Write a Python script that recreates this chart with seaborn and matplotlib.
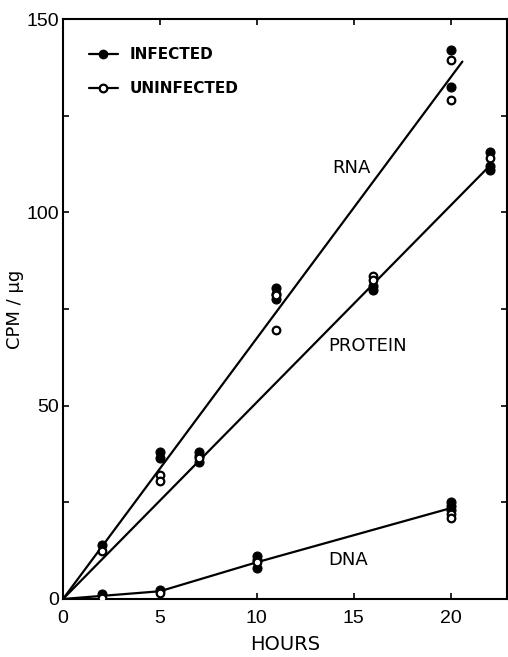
import numpy as np
import pandas as pd
import matplotlib
matplotlib.use("Agg")
import matplotlib.pyplot as plt
import seaborn as sns
from matplotlib.lines import Line2D
from matplotlib.legend_handler import HandlerLine2D

# ---- data ----
rna_inf_x = [2, 5, 5, 11, 11, 11, 20, 20]
rna_inf_y = [14, 38, 36.5, 80.5, 79, 77.5, 142, 132.5]
rna_uninf_x = [2, 5, 5, 11, 11, 20, 20]
rna_uninf_y = [12.5, 32, 30.5, 78.5, 69.5, 139.5, 129]

prot_inf_x = [7, 7, 7, 16, 16, 22, 22, 22]
prot_inf_y = [38, 37, 35.5, 81, 80, 115.5, 112, 111]
prot_uninf_x = [7, 16, 16, 22]
prot_uninf_y = [36.5, 83.5, 82.5, 114]

dna_inf_x = [2, 5, 10, 10, 10, 20, 20, 20]
dna_inf_y = [1.3, 2.2, 11, 10, 8, 25, 24, 23]
dna_uninf_x = [2, 5, 10, 20, 20]
dna_uninf_y = [0.3, 1.5, 9.5, 22, 21]

rna_line_x = [0, 20.6]
rna_line_y = [0, 139]
prot_line_x = [0, 22]
prot_line_y = [0, 112]
dna_line_x = [0, 2, 5, 10, 20]
dna_line_y = [0, 0.8, 2, 9.5, 23.5]

x_ticks = [0, 5, 10, 15, 20]
y_ticks = [0, 50, 100, 150]
y_minor = [0, 25, 50, 75, 100, 125, 150]
series_labels = ["RNA", "PROTEIN", "DNA"]
legend_labels = ["INFECTED", "UNINFECTED"]

# ---- tables ----
pts = pd.concat([
    pd.DataFrame({"x": rna_inf_x, "y": rna_inf_y, "state": "INFECTED"}),
    pd.DataFrame({"x": rna_uninf_x, "y": rna_uninf_y, "state": "UNINFECTED"}),
    pd.DataFrame({"x": prot_inf_x, "y": prot_inf_y, "state": "INFECTED"}),
    pd.DataFrame({"x": prot_uninf_x, "y": prot_uninf_y, "state": "UNINFECTED"}),
    pd.DataFrame({"x": dna_inf_x, "y": dna_inf_y, "state": "INFECTED"}),
    pd.DataFrame({"x": dna_uninf_x, "y": dna_uninf_y, "state": "UNINFECTED"}),
], ignore_index=True)

lines = pd.concat([
    pd.DataFrame({"x": rna_line_x, "y": rna_line_y, "s": "RNA"}),
    pd.DataFrame({"x": prot_line_x, "y": prot_line_y, "s": "PROTEIN"}),
    pd.DataFrame({"x": dna_line_x, "y": dna_line_y, "s": "DNA"}),
], ignore_index=True)

sns.set_style("ticks")
plt.rcParams["font.family"] = ["DejaVu Sans"]
plt.rcParams["text.color"] = "black"
plt.rcParams["axes.labelcolor"] = "black"

fig = plt.figure(figsize=(5.08, 6.57), dpi=100)
ax = fig.add_axes([0.124, 0.0883, 0.874, 0.8827])

sns.lineplot(data=lines, x="x", y="y", units="s", estimator=None, sort=False,
             color="black", lw=1.6, ax=ax, legend=False)

inf = pts[pts.state == "INFECTED"]
uninf = pts[pts.state == "UNINFECTED"]
sns.scatterplot(data=inf, x="x", y="y", marker="o", s=42, color="black",
                edgecolor="black", linewidth=0.8, ax=ax, legend=False, zorder=4)
sns.scatterplot(data=uninf, x="x", y="y", marker="o", s=30, facecolor="white",
                edgecolor="black", linewidth=1.6, ax=ax, legend=False, zorder=5)

ax.set_xlim(0, 22.9)
ax.set_ylim(0, 150)
ax.set_xticks(x_ticks)
ax.set_xticklabels([str(t) for t in x_ticks], fontsize=14, family="Liberation Sans")
ax.set_yticks(y_minor)
ax.set_yticklabels([str(t) if t in y_ticks else "" for t in y_minor],
                   fontsize=14, family="Liberation Sans")
ax.tick_params(direction="in", length=4, width=1.2, top=True, right=True,
               colors="black", labelcolor="black")
ax.tick_params(axis="x", pad=8)
ax.tick_params(axis="y", pad=3)
for sp in ax.spines.values():
    sp.set_linewidth(1.5)
    sp.set_color("black")

ax.set_xlabel("HOURS", fontsize=14)
ax.set_ylabel("CPM / μg", fontsize=13)
ax.xaxis.set_label_coords(0.5, -0.062)
ax.yaxis.set_label_coords(-0.088, 0.5)

# series labels
ax.text(14.9, 111.5, series_labels[0], fontsize=13, ha="center", va="center")
ax.text(15.7, 65.5, series_labels[1], fontsize=13, ha="center", va="center")
ax.text(14.7, 10.0, series_labels[2], fontsize=13, ha="center", va="center")

class LeftMarker(HandlerLine2D):
    def get_xdata(self, legend, xdescent, ydescent, width, height, fontsize):
        xdata = np.array([-xdescent, -xdescent + width])
        return xdata, np.array([-xdescent])

h1 = Line2D([], [], color="black", lw=1.6, marker="o", markersize=6,
            markerfacecolor="black", markeredgecolor="black")
h2 = Line2D([], [], color="black", lw=1.6, marker="o", markersize=5.5,
            markerfacecolor="white", markeredgecolor="black", markeredgewidth=1.6)
leg = ax.legend([h1, h2], legend_labels, loc="upper left",
                bbox_to_anchor=(0.027, 0.975), frameon=False, fontsize=11,
                handlelength=1.9, handletextpad=0.75, labelspacing=1.25,
                handler_map={Line2D: LeftMarker()})
for t in leg.get_texts():
    t.set_fontweight("bold")
    t.set_color("black")

fig.savefig("out.png", dpi=100)
